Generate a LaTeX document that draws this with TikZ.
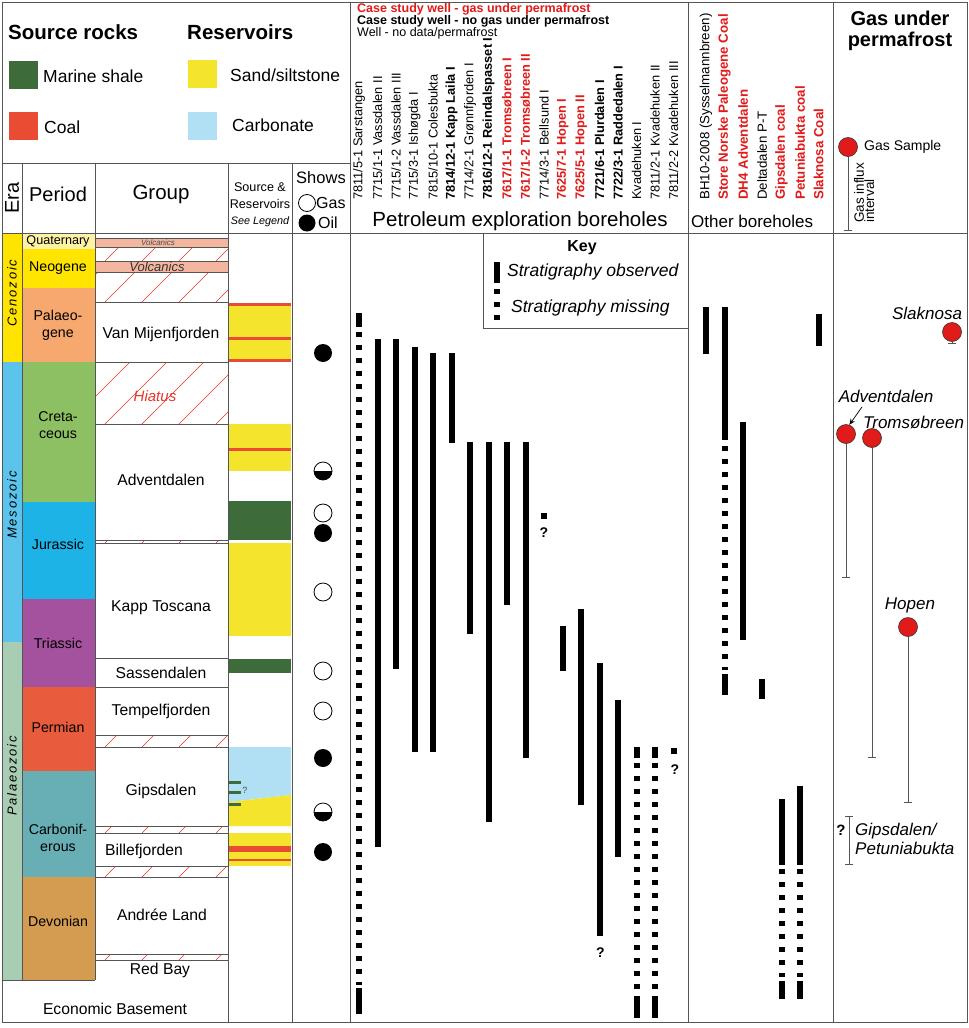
\documentclass[tikz,border=0pt]{standalone}
\usepackage{fontspec}
\setmainfont{Liberation Sans}
\newfontfamily\erafont[LetterSpace=14]{Liberation Sans}
\usepackage{tikz}
\usetikzlibrary{arrows.meta}

% lithology and time scale colours
\definecolor{shale}{HTML}{3E6B3A}
\definecolor{coal}{HTML}{EA4B33}
\definecolor{sand}{HTML}{F4E52C}
\definecolor{carb}{HTML}{B1DFF4}
\definecolor{ceno}{HTML}{FFE400}
\definecolor{meso}{HTML}{5BC3EC}
\definecolor{palaeo}{HTML}{A8CDB2}
\definecolor{quat}{HTML}{FEF2A4}
\definecolor{neo}{HTML}{FFE500}
\definecolor{paleog}{HTML}{F6A86F}
\definecolor{cret}{HTML}{8CC063}
\definecolor{jur}{HTML}{1EB3E6}
\definecolor{tri}{HTML}{A4519E}
\definecolor{perm}{HTML}{E85B3D}
\definecolor{carbon}{HTML}{67AEB5}
\definecolor{devon}{HTML}{D49C50}
\definecolor{volc}{HTML}{F5B6A0}
\definecolor{gasred}{HTML}{E11A1A}
\definecolor{hatchred}{HTML}{E8342A}
\definecolor{frame}{HTML}{555555}

\newcommand\fsz[1]{\fontsize{#1}{#1}\selectfont}

% hiatus box with red hatching
\newcommand\hatchbox[4]{%
  \begin{scope}
    \clip (#1,#2) rectangle (#3,#4);
    \foreach \k in {-3,...,5}
      \draw[hatch] ({#1+10+\k*37},#4) -- ++(90,-90);
  \end{scope}
  \draw[cell] (#1,#2) rectangle (#3,#4);
}

\begin{document}
\begin{tikzpicture}[x=1pt, y=-1pt,
  rule/.style={draw=frame, line width=1pt},
  cell/.style={draw=frame, line width=0.8pt},
  hatch/.style={draw=hatchred, line width=0.6pt},
  swatch/.style={minimum width=29pt, minimum height=28pt, inner sep=0},
  txt/.style={inner sep=0, font=\fsz{15.7}},
  per/.style={inner sep=0, align=center, font=\fsz{14.2}\linespread{1.2}\selectfont},
  era/.style={rotate=90, inner sep=0, font=\erafont\itshape\fsz{13}},
  wellN/.style={rotate=90, anchor=west, inner sep=0, font=\fsz{12.8}},
  wellB/.style={wellN, font=\fsz{12.8}\bfseries},
  wellR/.style={wellB, text=gasred},
  otherN/.style={wellN, font=\fsz{13.3}},
  otherR/.style={wellN, font=\fsz{13.3}\bfseries, text=gasred},
  obsbar/.style={line width=6pt},
  missbar/.style={line width=6pt, dash pattern=on 5pt off 8pt},
  oil/.style={circle, fill=black, minimum size=18pt, inner sep=0},
  gas/.style={circle, draw=black, fill=white, line width=0.8pt, minimum size=18pt, inner sep=0},
  half/.style={circle, draw=black, line width=0.8pt, minimum size=18pt, inner sep=0},
  gasball/.style={circle, draw=black!80, fill=gasred, line width=0.6pt, minimum size=19pt, inner sep=0},
  influx/.style={draw=frame, line width=0.7pt},
  site/.style={inner sep=0, font=\fsz{17}\itshape},
  qmark/.style={inner sep=0, font=\fsz{14}\bfseries}]

\fill[white] (0,0) rectangle (969,1028);
\useasboundingbox (0,0) rectangle (969,1028);

% Legend
\node[anchor=west, inner sep=0, font=\fsz{20.5}\bfseries] (srcHead) at (8,32) {Source rocks};
\node[anchor=west, inner sep=0, font=\fsz{20.5}\bfseries] (resHead) at (187,32) {Reservoirs};
\node[swatch, fill=shale] (swShale) at (23.5,75) {};
\node[swatch, fill=coal] (swCoal) at (23.5,125.5) {};
\node[swatch, fill=sand] (swSand) at (202,74) {};
\node[swatch, fill=carb] (swCarb) at (202,125.5) {};
\node[anchor=west, inner sep=0, font=\fsz{17.5}] (lShale) at (43,76) {Marine shale};
\node[anchor=west, inner sep=0, font=\fsz{17.5}] (lCoal) at (44,127) {Coal};
\node[anchor=west, inner sep=0, font=\fsz{17.5}] (lSand) at (230,75) {Sand/siltstone};
\node[anchor=west, inner sep=0, font=\fsz{17.5}] (lCarb) at (232,125) {Carbonate};

% Era column
\fill[ceno] (2,233) rectangle (22,362);
\fill[meso] (2,362) rectangle (22,642);
\fill[palaeo] (2,642) rectangle (22,980);
\node[era] (eCeno) at (12,293) {Cenozoic};
\node[era] (eMeso) at (12,505) {Mesozoic};
\node[era] (ePalaeo) at (12,776) {Palaeozoic};

% Period column
\fill[quat] (22,233) rectangle (95,249);
\fill[neo] (22,249) rectangle (95,288);
\fill[paleog] (22,288) rectangle (95,362);
\fill[cret] (22,362) rectangle (95,502);
\fill[jur] (22,502) rectangle (95,599);
\fill[tri] (22,599) rectangle (95,687);
\fill[perm] (22,687) rectangle (95,771);
\fill[carbon] (22,771) rectangle (95,877);
\fill[devon] (22,877) rectangle (95,980);
\node[per, font=\fsz{12.6}] (pQuat) at (58,241) {Quaternary};
\node[per] (pNeo) at (58,268) {Neogene};
\node[per] (pPaleo) at (58,325) {Palaeo-\\gene};
\node[per] (pCret) at (58,425) {Creta-\\ceous};
\node[per] (pJur) at (58,544) {Jurassic};
\node[per] (pTri) at (58,643) {Triassic};
\node[per] (pPerm) at (58,727) {Permian};
\node[per] (pCarb) at (58,838) {Carbonif-\\erous};
\node[per] (pDev) at (58,921) {Devonian};

% Group column
\draw[cell, fill=volc] (95,238) rectangle (228,247);
\node[inner sep=0, font=\fsz{8}\itshape, text=black!70] (volcA) at (158,242.5) {Volcanics};
\hatchbox{95}{247}{228}{261}
\draw[cell, fill=volc] (95,261) rectangle (228,272);
\node[inner sep=0, font=\fsz{13}\itshape, text=black!80] (volcB) at (157,266.5) {Volcanics};
\hatchbox{95}{272}{228}{302}
\draw[cell] (95,302) rectangle (228,362);
\node[txt] (grpVan) at (161,334) {Van Mijenfjorden};
\hatchbox{95}{362}{228}{424}
\node[inner sep=0, text=hatchred, font=\fsz{15}\itshape] (grpHiatus) at (155,396) {Hiatus};
\draw[cell] (95,424) rectangle (228,540);
\node[txt] (grpAdv) at (161,480) {Adventdalen};
\hatchbox{95}{540}{228}{543}
\draw[cell] (95,543) rectangle (228,658);
\node[txt] (grpKapp) at (161,608) {Kapp Toscana};
\draw[cell] (95,658) rectangle (228,687);
\node[txt] (grpSass) at (161,673) {Sassendalen};
\draw[cell] (95,687) rectangle (228,735);
\node[txt] (grpTemp) at (161,711) {Tempelfjorden};
\hatchbox{95}{735}{228}{747}
\draw[cell] (95,747) rectangle (228,826);
\node[txt] (grpGips) at (161,791) {Gipsdalen};
\hatchbox{95}{826}{228}{833}
\draw[cell] (95,833) rectangle (228,866);
\node[txt] (grpBille) at (144,851) {Billefjorden};
\hatchbox{95}{866}{228}{877}
\draw[cell] (95,877) rectangle (228,954);
\node[txt] (grpAndree) at (162,915) {Andrée Land};
\hatchbox{95}{954}{228}{960}
\node[txt] (grpRed) at (160,970) {Red Bay};
\node[txt] (grpBase) at (115,1009) {Economic Basement};

% Source & reservoirs column
\fill[sand] (229,303) rectangle (291,362);
\fill[coal] (229,303) rectangle (291,306);
\fill[coal] (229,337) rectangle (291,340);
\fill[coal] (229,359) rectangle (291,362);
\fill[sand] (229,424) rectangle (291,471);
\fill[coal] (229,448) rectangle (291,451);
\fill[shale] (229,501) rectangle (291,540);
\fill[sand] (229,543) rectangle (291,636);
\fill[shale] (229,659) rectangle (291,673);
\fill[carb] (229,747) -- (291,747) -- (291,795) -- (229,802) -- cycle;
\fill[sand] (229,802) -- (291,795) -- (291,826) -- (229,826) -- cycle;
\fill[sand] (229,833) rectangle (291,866);
\fill[coal] (229,846) rectangle (291,852);
\fill[coal] (229,859) rectangle (291,861);
\fill[shale] (229,780.5) rectangle (241,784);
\fill[shale] (229,790.5) rectangle (241,794);
\fill[shale] (229,802.5) rectangle (241,806);
\node[inner sep=0, font=\fsz{9}, text=black!70] (srcQ) at (245,790) {?};

% Shows column
\node[oil] (show1) at (323,353) {};
\fill (314,471) arc[start angle=180, end angle=360, radius=9pt] -- cycle;
\node[half] (show2) at (323,471) {};
\node[gas] (show3) at (323,513) {};
\node[oil] (show4) at (323,533) {};
\node[gas] (show5) at (323,592) {};
\node[gas] (show6) at (323,671) {};
\node[gas] (show7) at (323,711) {};
\node[oil] (show8) at (323,758) {};
\fill (314,812) arc[start angle=180, end angle=360, radius=9pt] -- cycle;
\node[half] (show9) at (323,812) {};
\node[oil] (show10) at (323,852) {};

% Header row
\node[rotate=90, inner sep=0, font=\fsz{20}] (hEra) at (12,198) {Era};
\node[inner sep=0, font=\fsz{20}] (hPeriod) at (58,194) {Period};
\node[inner sep=0, font=\fsz{20.5}] (hGroup) at (161,194) {Group};
\node[inner sep=0, font=\fsz{12.6}] (hSource) at (260,187) {Source \&};
\node[inner sep=0, font=\fsz{12.6}] (hRes) at (260,204) {Reservoirs};
\node[inner sep=0, font=\fsz{10.8}\itshape] (hSee) at (260,222) {See Legend};
\node[inner sep=0, font=\fsz{16.5}] (hShows) at (321,178) {Shows};
\node[gas, minimum size=17pt] (hGasDot) at (307,203) {};
\node[anchor=west, inner sep=0, font=\fsz{16}] (hGas) at (316,203) {Gas};
\node[oil, minimum size=17pt] (hOilDot) at (307,223) {};
\node[anchor=west, inner sep=0, font=\fsz{16}] (hOil) at (318,223) {Oil};

% Well type legend
\node[anchor=west, inner sep=0, font=\fsz{12.5}\bfseries, text=gasred] (legRed) at (357,9) {Case study well - gas under permafrost};
\node[anchor=west, inner sep=0, font=\fsz{12.5}\bfseries] (legBlack) at (357,21) {Case study well - no gas under permafrost};
\node[anchor=west, inner sep=0, font=\fsz{12.5}] (legGrey) at (357,33) {Well - no data/permafrost};

% Petroleum exploration boreholes
\node[wellN] (w1) at (359,200) {7811/5-1 Sarstangen};
\node[wellN] (w2) at (377.5,200) {7715/1-1 Vassdalen II};
\node[wellN] (w3) at (396,200) {7715/1-2 Vassdalen III};
\node[wellN] (w4) at (414.5,200) {7715/3-1 Ishøgda I};
\node[wellN] (w5) at (433,200) {7815/10-1 Colesbukta};
\node[wellB] (w6) at (451.5,200) {7814/12-1 Kapp Laila I};
\node[wellN] (w7) at (470,200) {7714/2-1 Grønnfjorden I};
\node[wellB] (w8) at (488.5,200) {7816/12-1 Reindalspasset I};
\node[wellR] (w9) at (507,200) {7617/1-1 Tromsøbreen I};
\node[wellR] (w10) at (525.5,200) {7617/1-2 Tromsøbreen II};
\node[wellN] (w11) at (544,200) {7714/3-1 Bellsund I};
\node[wellR] (w12) at (562.5,200) {7625/7-1 Hopen I};
\node[wellR] (w13) at (581,200) {7625/5-1 Hopen II};
\node[wellB] (w14) at (599.5,200) {7721/6-1 Plurdalen I};
\node[wellB] (w15) at (618,200) {7722/3-1 Raddedalen I};
\node[wellN] (w16) at (636.5,200) {Kvadehuken I};
\node[wellN] (w17) at (655,200) {7811/2-1 Kvadehuken II};
\node[wellN] (w18) at (673.5,200) {7811/2-2 Kvadehuken III};
\node[inner sep=0, font=\fsz{20.5}] (hPetro) at (520,221) {Petroleum exploration boreholes};

\draw[obsbar] (359,313) -- (359,327);
\draw[missbar] (359,332) -- (359,985);
\draw[obsbar] (359,988) -- (359,1014);
\foreach \x/\a/\b in {377.5/339/847, 396/339/669, 414.5/347/752, 433/353/752,
    451.5/353/443, 470/442/634, 488.5/442/822, 507/442/605, 525.5/442/758,
    562.5/626/671, 581/609/805, 599.5/663/936, 618/700/857}
  \draw[obsbar] (\x,\a) -- (\x,\b);
\draw[obsbar] (544,513) -- (544,519);
\node[qmark] (q1) at (544,533) {?};
\node[qmark] (q2) at (600.5,953) {?};
\foreach \x in {636.5,655} {
  \draw[obsbar] (\x,747) -- (\x,758);
  \draw[missbar] (\x,763) -- (\x,990);
  \draw[obsbar] (\x,996) -- (\x,1018);
}
\draw[obsbar] (673.5,748) -- (673.5,754);
\node[qmark] (q3) at (675,770) {?};

% Key
\draw[rule] (483,233) -- (483,328) -- (688,328);
\node[inner sep=0, font=\fsz{16}\bfseries] (keyHead) at (582,248) {Key};
\draw[obsbar] (497,262) -- (497,283);
\draw[missbar] (497,289) -- (497,320);
\node[anchor=west, inner sep=0, font=\fsz{17.5}\itshape] (keyObs) at (507,272) {Stratigraphy observed};
\node[anchor=west, inner sep=0, font=\fsz{17.5}\itshape] (keyMiss) at (511,308) {Stratigraphy missing};

% Other boreholes
\node[otherN] (o1) at (706,200) {BH10-2008 (Sysselmannbreen)};
\node[otherR] (o2) at (724.5,200) {Store Norske Paleogene Coal};
\node[otherR] (o3) at (743,200) {DH4 Adventdalen};
\node[otherN] (o4) at (762,200) {Deltadalen P-T};
\node[otherR] (o5) at (781.5,200) {Gipsdalen coal};
\node[otherR] (o6) at (800,200) {Petuniabukta coal};
\node[otherR] (o7) at (818.5,200) {Slaknosa Coal};
\node[anchor=west, inner sep=0, font=\fsz{17}] (hOther) at (691,221) {Other boreholes};

\draw[obsbar] (706,307) -- (706,354);
\draw[obsbar] (724.5,307) -- (724.5,440);
\draw[missbar] (724.5,446) -- (724.5,670);
\draw[obsbar] (724.5,674) -- (724.5,695);
\draw[obsbar] (743,422) -- (743,640);
\draw[obsbar] (762,679) -- (762,699);
\draw[obsbar] (781.5,799) -- (781.5,865);
\draw[missbar] (781.5,869) -- (781.5,977);
\draw[obsbar] (781.5,981) -- (781.5,999);
\draw[obsbar] (800,786) -- (800,865);
\draw[missbar] (800,869) -- (800,977);
\draw[obsbar] (800,981) -- (800,999);
\draw[obsbar] (818.5,314) -- (818.5,346);

% Gas under permafrost
\node[inner sep=0, align=center, font=\fsz{20}\bfseries\linespread{1.05}\selectfont] (hGasPerm) at (900,31) {Gas under\\permafrost};
\node[gasball] (gasKey) at (848,147) {};
\node[anchor=west, inner sep=0, font=\fsz{14}] (gasKeyTxt) at (864,147) {Gas Sample};
\coordinate (gasKeyEnd) at (848,230);
\draw[influx] (gasKey) -- (gasKeyEnd);
\draw[influx] ([xshift=-4pt]gasKeyEnd) -- ([xshift=4pt]gasKeyEnd);
\node[rotate=90, anchor=north west, align=left, inner sep=0, font=\fsz{13.5}\linespread{0.75}\selectfont] (gasKeyInt) at (854,223) {Gas influx\\interval};

\node[site] (lSlak) at (927,313) {Slaknosa};
\node[gasball] (gasSlak) at (952,332) {};
\coordinate (slakEnd) at (952,343);
\draw[influx] (gasSlak) -- (slakEnd);
\draw[influx] ([xshift=-4pt]slakEnd) -- ([xshift=4pt]slakEnd);

\node[site] (lAdv) at (886,396) {Adventdalen};
\node[gasball] (gasAdv) at (846,434) {};
\coordinate (advTail) at (862,407);
\draw[-{Stealth[length=6pt,width=5pt]}, line width=0.7pt] (advTail) -- (gasAdv.70);
\coordinate (advEnd) at (846,577);
\draw[influx] (gasAdv) -- (advEnd);
\draw[influx] ([xshift=-4pt]advEnd) -- ([xshift=4pt]advEnd);

\node[site, anchor=west] (lTroms) at (863,422) {Tromsøbreen};
\node[gasball] (gasTroms) at (872,438) {};
\coordinate (tromsEnd) at (872,757);
\draw[influx] (gasTroms) -- (tromsEnd);
\draw[influx] ([xshift=-4pt]tromsEnd) -- ([xshift=4pt]tromsEnd);

\node[site] (lHopen) at (910,605) {Hopen};
\node[gasball] (gasHopen) at (908,627) {};
\coordinate (hopenEnd) at (908,802);
\draw[influx] (gasHopen) -- (hopenEnd);
\draw[influx] ([xshift=-4pt]hopenEnd) -- ([xshift=4pt]hopenEnd);

\coordinate (gipsTop) at (849,816);
\coordinate (gipsBot) at (849,864);
\draw[influx] (gipsTop) -- (gipsBot);
\draw[influx] ([xshift=-4pt]gipsTop) -- ([xshift=4pt]gipsTop);
\draw[influx] ([xshift=-4pt]gipsBot) -- ([xshift=4pt]gipsBot);
\node[qmark, font=\fsz{15}\bfseries] (qGips) at (841,830) {?};
\node[site, anchor=west, align=left, font=\fsz{17}\itshape\linespread{1.1}\selectfont] (lGips) at (855,839) {Gipsdalen/\\Petuniabukta};

% Frame
\draw[rule] (2,2) rectangle (967,1022);
\draw[rule] (2,163) -- (350,163);
\draw[rule] (2,233) -- (967,233);
\draw[rule] (22,163) -- (22,980);
\draw[rule] (95,163) -- (95,980);
\draw[rule] (2,980) -- (95,980);
\draw[rule] (228,163) -- (228,1022);
\draw[rule] (292,163) -- (292,1022);
\draw[rule] (350,2) -- (350,1022);
\draw[rule] (688,2) -- (688,1022);
\draw[rule] (833,2) -- (833,1022);
\end{tikzpicture}
\end{document}
